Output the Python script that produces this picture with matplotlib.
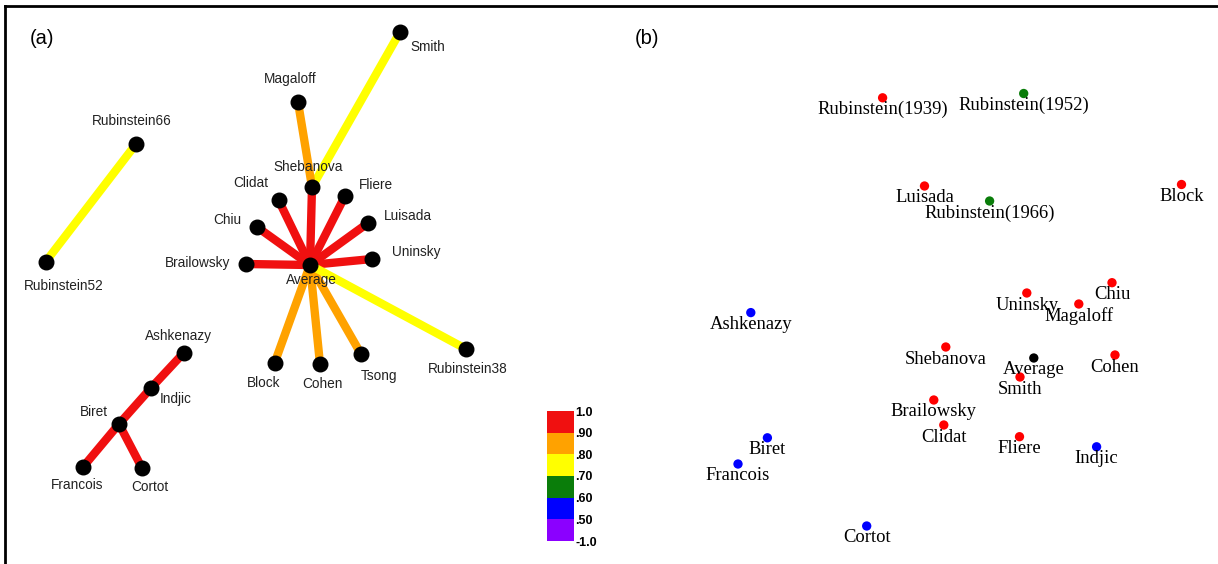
import matplotlib
matplotlib.use("Agg")
import matplotlib.pyplot as plt
import numpy as np
from matplotlib.colors import ListedColormap, BoundaryNorm
from matplotlib.cm import ScalarMappable
from matplotlib.lines import Line2D

# ---- panel (a): network layout (layout units, y grows downward) ----
net_names = ['Smith', 'Magaloff', 'Rubinstein66', 'Rubinstein52', 'Shebanova',
             'Clidat', 'Fliere', 'Chiu', 'Luisada', 'Brailowsky', 'Uninsky',
             'Average', 'Block', 'Cohen', 'Tsong', 'Rubinstein38', 'Ashkenazy',
             'Indjic', 'Biret', 'Francois', 'Cortot']
net_x = [400, 298, 136, 45.5, 312, 278.5, 345, 257, 368, 246, 372,
         310, 274.6, 320, 361, 466, 183.6, 151, 119, 83, 142]
net_y = [32, 102, 144, 262, 187, 200, 196, 227, 223, 264, 259,
         265, 363, 364, 354, 349, 353, 388, 424, 467, 468]

# edges: (from, to, correlation)
edges = [
    ('Shebanova', 'Smith', 0.75),
    ('Shebanova', 'Magaloff', 0.85),
    ('Rubinstein66', 'Rubinstein52', 0.75),
    ('Average', 'Shebanova', 0.95),
    ('Average', 'Clidat', 0.95),
    ('Average', 'Fliere', 0.95),
    ('Average', 'Chiu', 0.95),
    ('Average', 'Luisada', 0.95),
    ('Average', 'Brailowsky', 0.95),
    ('Average', 'Uninsky', 0.95),
    ('Average', 'Block', 0.85),
    ('Average', 'Cohen', 0.85),
    ('Average', 'Tsong', 0.85),
    ('Average', 'Rubinstein38', 0.75),
    ('Ashkenazy', 'Indjic', 0.95),
    ('Indjic', 'Biret', 0.95),
    ('Biret', 'Francois', 0.95),
    ('Biret', 'Cortot', 0.95),
]

# colour scale
bounds = [-1.0, 0.50, 0.60, 0.70, 0.80, 0.90, 1.0]
bound_labels = ['-1.0', '.50', '.60', '.70', '.80', '.90', '1.0']
band_colors = ['#8b00ff', '#0000ff', '#0a7d0a', '#ffff00', '#ffa200', '#f01010']

# ---- panel (b): MDS map ----
mds_names = ['Rubinstein(1939)', 'Rubinstein(1952)', 'Luisada', 'Rubinstein(1966)',
             'Block', 'Chiu', 'Uninsky', 'Magaloff', 'Ashkenazy', 'Shebanova',
             'Average', 'Cohen', 'Smith', 'Brailowsky', 'Clidat', 'Fliere',
             'Biret', 'Indjic', 'Francois', 'Cortot']
mds_x = [272.6, 413.7, 314.5, 379.6, 571.5, 502, 416.8, 468.8, 140.8, 335.8,
         423.8, 505, 410, 323.8, 333.8, 409.5, 157.4, 486.6, 128, 256.7]
mds_y = [97.8, 93.5, 186, 201, 184.5, 282.7, 293, 304, 312.6, 347,
         358, 355, 377, 400, 425, 436.7, 437.8, 446.8, 464, 526]
mds_group = ['r', 'g', 'r', 'g', 'r', 'r', 'r', 'r', 'b', 'r',
             'k', 'r', 'r', 'r', 'r', 'r', 'b', 'b', 'b', 'b']

# label placement relative to each node in panel (a)
net_label_off = {
    'Smith': (28, 15), 'Magaloff': (-8, -23), 'Rubinstein66': (-4.5, -23),
    'Rubinstein52': (18.5, 24), 'Shebanova': (-4, -20), 'Clidat': (-27.5, -17),
    'Fliere': (31, -11), 'Chiu': (-30, -7), 'Luisada': (40, -7),
    'Brailowsky': (-48, -1), 'Uninsky': (44, -7), 'Average': (1, 15),
    'Block': (-10.6, 20), 'Cohen': (2, 20), 'Tsong': (17.5, 22),
    'Rubinstein38': (2, 20), 'Ashkenazy': (-5, -17), 'Indjic': (25, 11),
    'Biret': (-25, -12.5), 'Francois': (-6, 18), 'Cortot': (8, 19),
}
group_color = {'r': '#ff0000', 'g': '#0a7d0a', 'b': '#0000ff', 'k': '#000000'}

W, H = 1218, 564
fig = plt.figure(figsize=(W / 100, H / 100), dpi=100)

cmap = ListedColormap(band_colors)
norm = BoundaryNorm(bounds, cmap.N)

# panel (a)
ax_a = fig.add_axes([0, 0, 610 / W, 1])
ax_a.set_xlim(0, 610)
ax_a.set_ylim(564, 0)
ax_a.axis('off')

pos = {n: (x, y) for n, x, y in zip(net_names, net_x, net_y)}
for a, b, v in edges:
    ax_a.plot([pos[a][0], pos[b][0]], [pos[a][1], pos[b][1]],
              color=cmap(norm(v)), lw=6.0, solid_capstyle='butt', zorder=1)
ax_a.scatter(net_x, net_y, s=110, color='black', zorder=3)
for n in net_names:
    dx, dy = net_label_off[n]
    ax_a.text(pos[n][0] + dx, pos[n][1] + dy, n, ha='center', va='center',
              fontsize=9.8, family='Liberation Sans', color='#222222', zorder=4)
ax_a.text(42, 38, '(a)', ha='center', va='center', fontsize=14.5,
          family='Liberation Sans')

# colour bar
cax = fig.add_axes([546.5 / W, (H - 541) / H, 27.2 / W, 130 / H])
cb = fig.colorbar(ScalarMappable(norm=norm, cmap=cmap), cax=cax,
                  boundaries=bounds, spacing='uniform', ticks=bounds)
cb.ax.set_yticklabels(bound_labels)
cb.ax.tick_params(length=0, pad=1, labelsize=9)
for t in cb.ax.get_yticklabels():
    t.set_fontweight('bold')
    t.set_family('Liberation Sans')
cb.outline.set_visible(False)

# panel (b)
ax_b = fig.add_axes([610 / W, 0, 608 / W, 1])
ax_b.set_xlim(0, 608)
ax_b.set_ylim(564, 0)
ax_b.axis('off')
ax_b.scatter(mds_x, mds_y, s=45, c=[group_color[g] for g in mds_group],
             zorder=2, linewidths=0)
for n, x, y in zip(mds_names, mds_x, mds_y):
    ax_b.text(x, y + 12, n, ha='center', va='center', fontsize=13.4,
              family='Liberation Serif', zorder=3)
ax_b.text(37, 38, '(b)', ha='center', va='center', fontsize=14.5,
          family='Liberation Sans')

# outer frame (top and left only)
fig.add_artist(Line2D([4.5 / W, 4.5 / W], [0, (H - 6) / H], color='black',
                      lw=2, transform=fig.transFigure))
fig.add_artist(Line2D([4.5 / W, 1], [(H - 6) / H, (H - 6) / H], color='black',
                      lw=2, transform=fig.transFigure))

fig.savefig('out.png', dpi=100)
